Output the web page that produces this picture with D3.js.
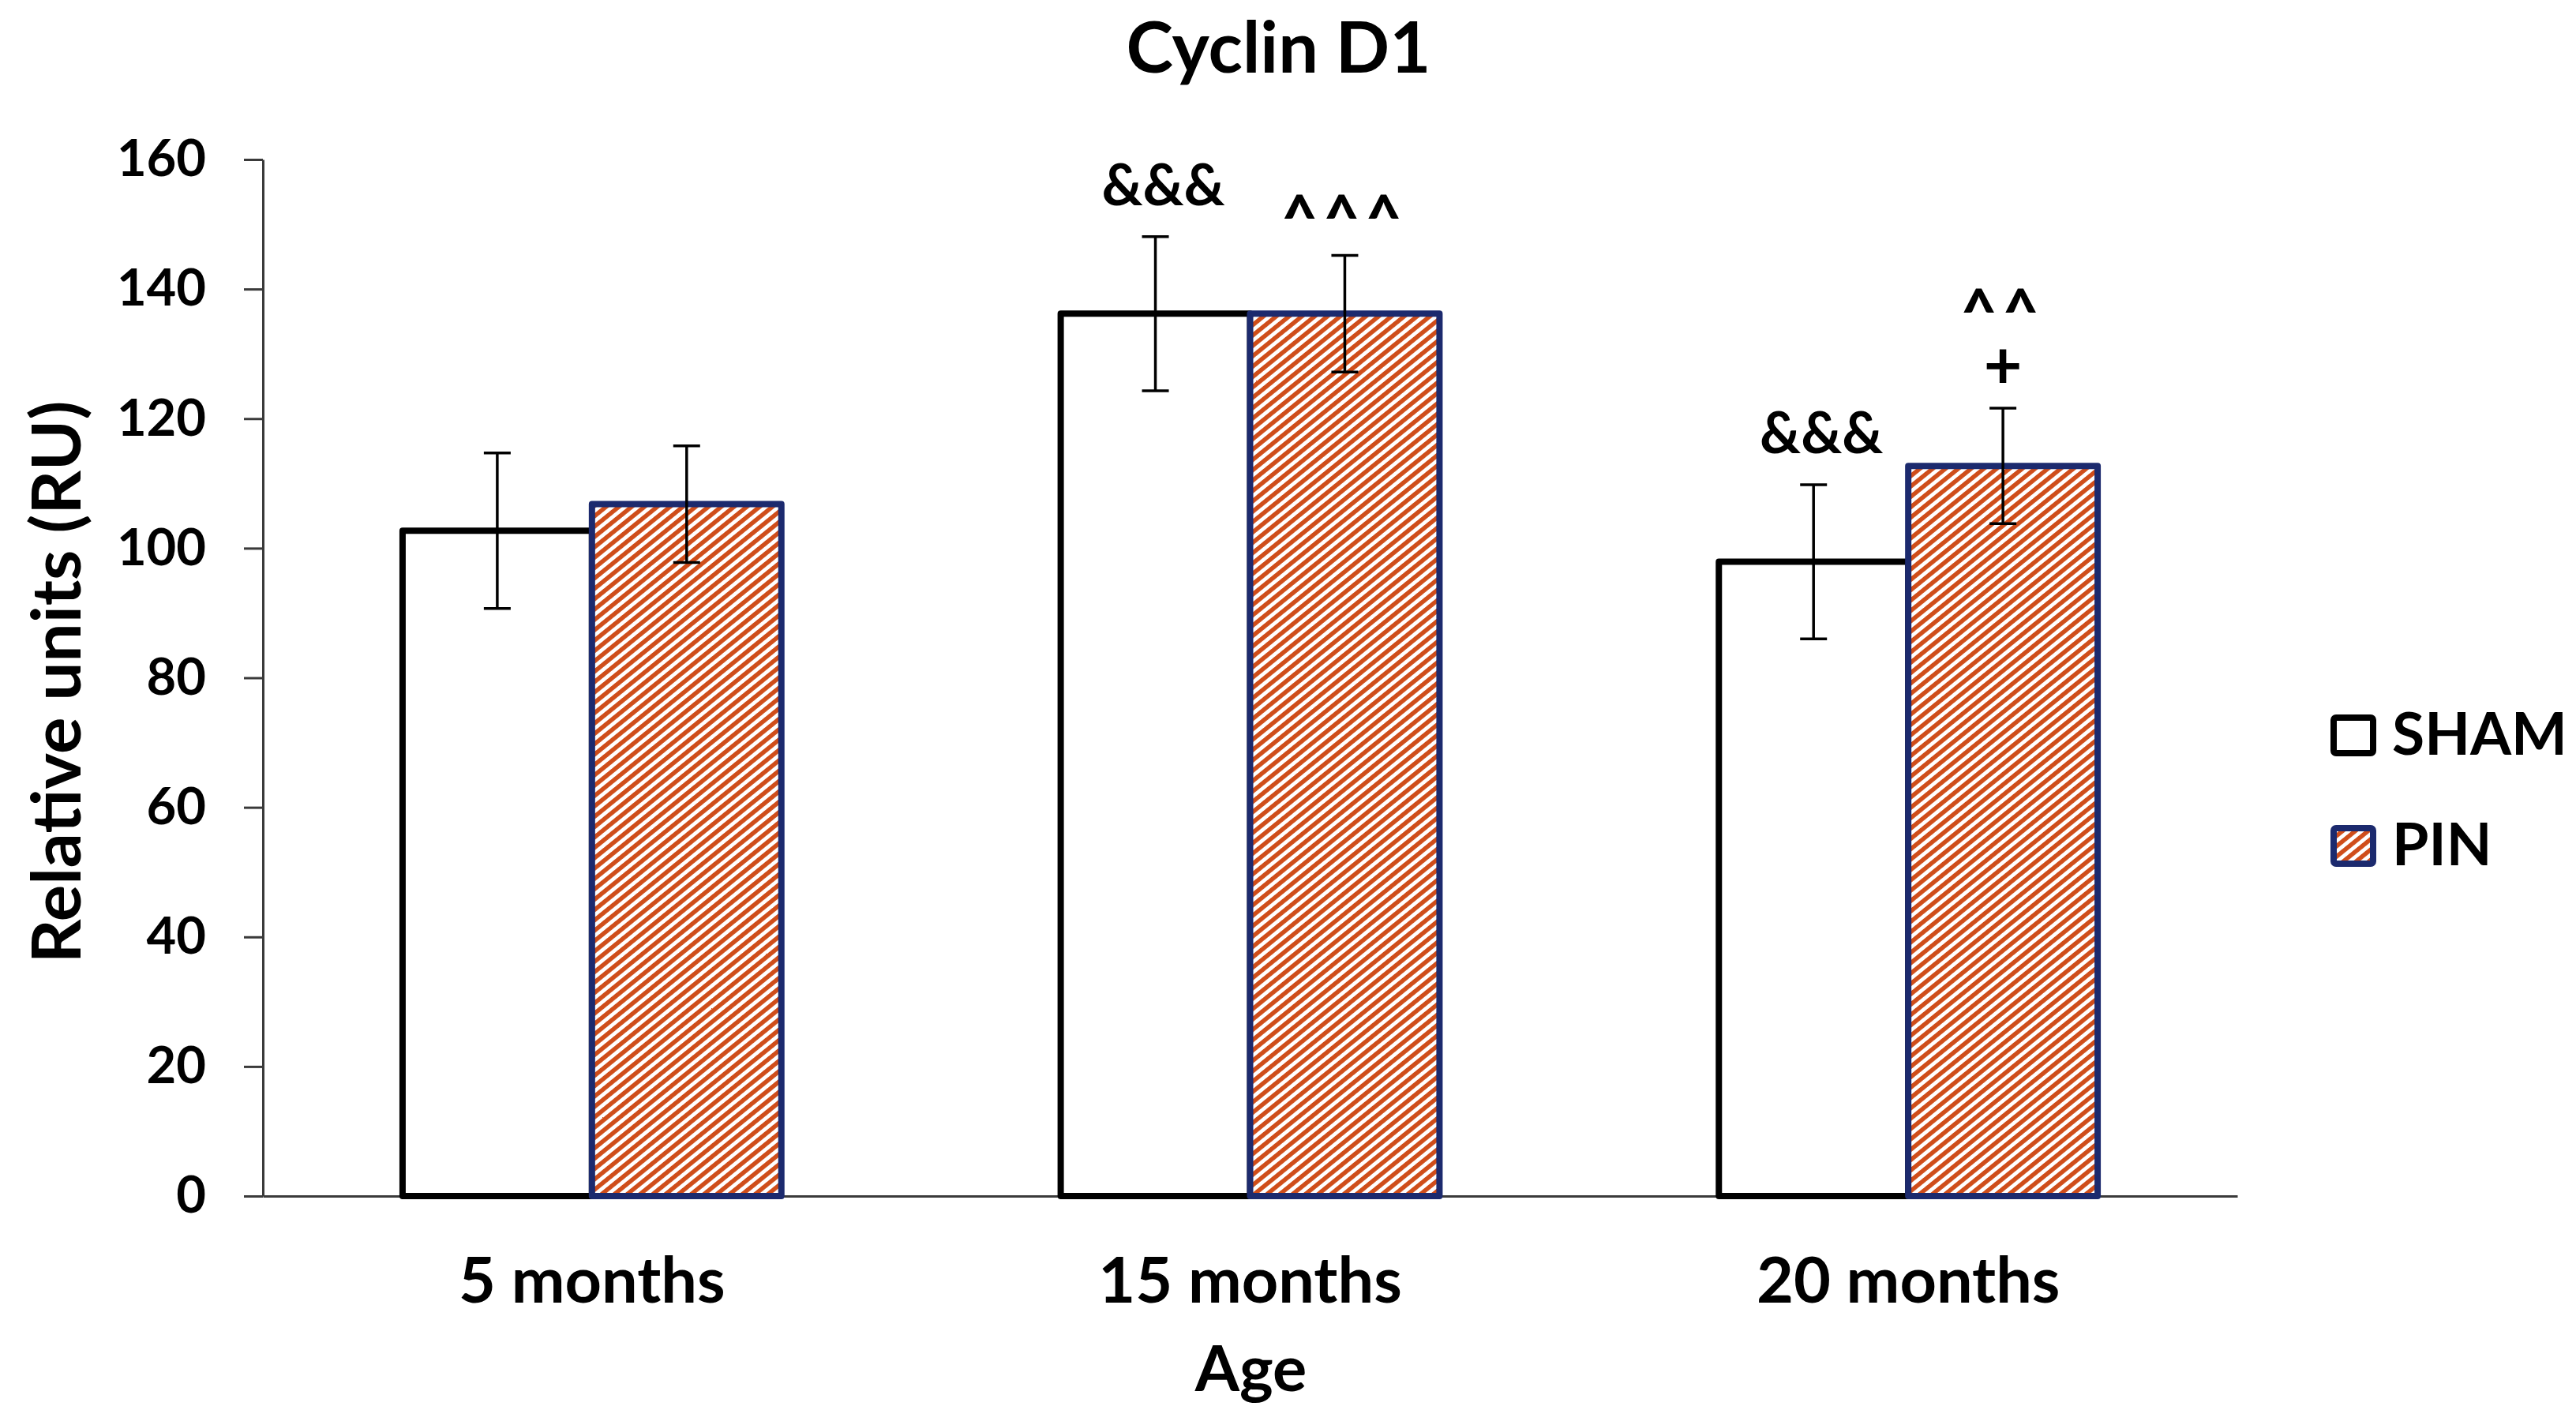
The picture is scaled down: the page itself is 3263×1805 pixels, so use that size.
<!DOCTYPE html>
<html>
<head>
<meta charset="utf-8">
<script src="https://cdn.jsdelivr.net/npm/d3@7/dist/d3.min.js"></script>
<style>
  html, body { margin: 0; padding: 0; background: #ffffff; }
  svg { display: block; }
  text { font-family: Lato, "Open Sans", sans-serif; font-weight: 700; fill: #000; }
</style>
</head>
<body>
<svg id="chart" width="3263" height="1805"></svg>
<script>
// ---- data ----
const categories = ["5 months", "15 months", "20 months"];
const seriesNames = ["SHAM", "PIN"];
const shamValues = [102.7, 136.2, 97.9];
const shamErrors = [12.0, 11.9, 11.9];
const pinValues = [106.8, 136.2, 112.7];
const pinErrors = [9.0, 9.0, 8.9];
const yTicks = [0, 20, 40, 60, 80, 100, 120, 140, 160];
// significance marks, listed bottom line first
const annotations = [
  { category: "15 months", series: "SHAM", lines: ["&&&"] },
  { category: "15 months", series: "PIN", lines: ["^^^"] },
  { category: "20 months", series: "SHAM", lines: ["&&&"] },
  { category: "20 months", series: "PIN", lines: ["+", "^^"] }
];
const titleText = "Cyclin D1";
const xTitle = "Age";
const yTitle = "Relative units (RU)";

// ---- table built from arrays ----
const table = [];
categories.forEach((c, i) => {
  table.push({ category: c, series: "SHAM", value: shamValues[i], err: shamErrors[i] });
  table.push({ category: c, series: "PIN", value: pinValues[i], err: pinErrors[i] });
});

const svg = d3.select("#chart");

// hatch pattern for PIN
const defs = svg.append("defs");
const P = 10.2;
const pat = defs.append("pattern")
  .attr("id", "hatch")
  .attr("patternUnits", "userSpaceOnUse")
  .attr("width", P).attr("height", P)
  .attr("patternTransform", "rotate(-39)");
pat.append("rect").attr("width", P).attr("height", P).attr("fill", "#ffffff");
pat.append("rect").attr("width", P).attr("height", 5.5).attr("fill", "#cf4d1a");

const plotLeft = 333, plotRight = 2834, plotTop = 202, plotBottom = 1515;

const x0 = d3.scaleBand().domain(categories).range([plotLeft, plotRight]).padding(0);
const x1 = d3.scaleBand().domain(seriesNames).range([0, x0.bandwidth()])
  .paddingInner(0).paddingOuter(0.7375);
const y = d3.scaleLinear().domain([0, 160]).range([plotBottom, plotTop]);

const style = {
  SHAM: { fill: "#ffffff", stroke: "#000000" },
  PIN: { fill: "url(#hatch)", stroke: "#1c2a6e" }
};

// title
svg.append("text")
  .attr("x", (plotLeft + plotRight) / 2 + 36)
  .attr("y", 92)
  .attr("text-anchor", "middle")
  .attr("font-size", 90)
  .text(titleText);

// y axis
const yAxis = d3.axisLeft(y).tickValues(yTicks).tickSize(24).tickSizeOuter(0).tickPadding(48);
const yg = svg.append("g").attr("transform", `translate(${plotLeft},0)`).call(yAxis);
yg.select(".domain").attr("stroke", "#3a3a3a").attr("stroke-width", 3);
yg.selectAll(".tick line").attr("stroke", "#3a3a3a").attr("stroke-width", 3);
yg.selectAll(".tick text")
  .attr("font-size", 65)
  .attr("font-family", "Lato, sans-serif")
  .attr("font-weight", 700)
  .attr("fill", "#000");

// x axis line + category labels
const xAxis = d3.axisBottom(x0).tickSize(0).tickSizeOuter(0).tickPadding(0);
const xg = svg.append("g").attr("transform", `translate(0,${plotBottom})`).call(xAxis);
xg.select(".domain").attr("stroke", "#3a3a3a").attr("stroke-width", 3);
xg.selectAll(".tick text")
  .attr("font-size", 81)
  .attr("font-family", "Lato, sans-serif")
  .attr("font-weight", 700)
  .attr("fill", "#000")
  .attr("dy", 0)
  .attr("y", 135);

// bars
svg.append("g").selectAll("rect")
  .data(table)
  .join("rect")
  .attr("x", d => x0(d.category) + x1(d.series))
  .attr("y", d => y(d.value))
  .attr("width", x1.bandwidth())
  .attr("height", d => y(0) - y(d.value))
  .attr("fill", d => style[d.series].fill)
  .attr("stroke", d => style[d.series].stroke)
  .attr("stroke-width", 8)
  .attr("stroke-linejoin", "round");

// error bars
const eg = svg.append("g").attr("stroke", "#000").attr("stroke-width", 3.5);
const cx = d => x0(d.category) + x1(d.series) + x1.bandwidth() / 2;
eg.selectAll("line.v").data(table).join("line").attr("class", "v")
  .attr("x1", cx).attr("x2", cx)
  .attr("y1", d => y(d.value + d.err)).attr("y2", d => y(d.value - d.err));
eg.selectAll("line.t").data(table).join("line").attr("class", "t")
  .attr("x1", d => cx(d) - 17).attr("x2", d => cx(d) + 17)
  .attr("y1", d => y(d.value + d.err)).attr("y2", d => y(d.value + d.err));
eg.selectAll("line.b").data(table).join("line").attr("class", "b")
  .attr("x1", d => cx(d) - 17).attr("x2", d => cx(d) + 17)
  .attr("y1", d => y(d.value - d.err)).attr("y2", d => y(d.value - d.err));

// annotations
const gapFor = t => t.startsWith("&") ? 40 : (t.startsWith("^") ? 20 : 25);
const sizeFor = t => t.startsWith("&") ? 72 : (t.startsWith("^") ? 78 : 84);
const annText = svg.append("g").selectAll("text")
  .data(annotations)
  .join("text")
  .attr("text-anchor", "middle");
annText.each(function (d) {
  const r = table.find(e => e.category === d.category && e.series === d.series);
  const bx = cx(r) + (d.lines[0].startsWith("&") ? 10 : 0);
  const base = y(r.value + r.err);
  const t = d3.select(this);
  d.lines.forEach((line, k) => {
    t.append("tspan")
      .attr("x", bx)
      .attr("y", k === 0 ? base - gapFor(line) : base - gapFor(d.lines[0]) - k * 70)
      .attr("font-size", sizeFor(line))
      .attr("font-weight", line.startsWith("^") ? 900 : 700)
      .attr("letter-spacing", line.startsWith("^") ? 8 : 0)
      .text(line);
  });
});

// axis titles
svg.append("text")
  .attr("x", (plotLeft + plotRight) / 2 + 1)
  .attr("y", 1762)
  .attr("text-anchor", "middle")
  .attr("font-size", 81)
  .text(xTitle);

svg.append("text")
  .attr("transform", `translate(102,864) rotate(-90)`)
  .attr("text-anchor", "middle")
  .attr("font-size", 87)
  .text(yTitle);

// legend
const legend = svg.append("g");
const legendTops = [909, 1049];
seriesNames.forEach((s, i) => {
  const yy = legendTops[i];
  legend.append("rect")
    .attr("x", 2956).attr("y", yy)
    .attr("width", 50).attr("height", 45)
    .attr("rx", 3)
    .attr("fill", style[s].fill)
    .attr("stroke", style[s].stroke)
    .attr("stroke-width", 8);
  legend.append("text")
    .attr("x", 3030).attr("y", yy + 47)
    .attr("font-size", 75)
    .text(s);
});
</script>
</body>
</html>
